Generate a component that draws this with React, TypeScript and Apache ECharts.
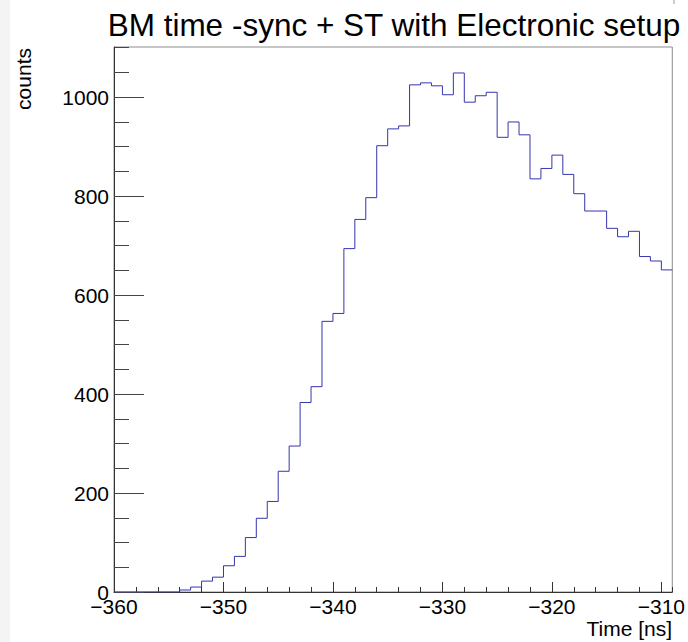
import React, { useEffect, useRef } from "react";
import * as echarts from "echarts";

// Histogram definition: bins of 1 ns starting at -360 ns
const binStart = -360;
const binWidth = 1;
const counts = [
  0, 0, 0, 0, 0, 0, // -360 .. -355
  4, 10, 22, 30, 53, 72, 110, 149, 183, 244, // -354 .. -345
  295, 383, 415, 547, 563, 694, 753, 797, 902, 936, // -344 .. -335
  942, 1025, 1029, 1023, 1005, 1049, 990, 1003, 1010, 919, // -334 .. -325
  950, 924, 835, 856, 883, 844, 805, 770, 770, 735, // -324 .. -315
  718, 729, 678, 669, 651, // -314 .. -310
];
const xMin = -360;
const xMax = -309;
const yMax = 1101.5;
const xMajor = 10;
const xMinor = 2;
const yMajor = 200;
const yMinor = 50;

const titleText = "BM time -sync + ST with Electronic setup";
const xTitle = "Time [ns]";
const yTitle = "counts";

const FONT = "'Liberation Sans', Arial, Helvetica, sans-serif";

export default function App() {
  const ref = useRef<HTMLDivElement>(null);
  useEffect(() => {
    if (!ref.current) return;
    const chart = echarts.init(ref.current, undefined, { renderer: "svg" });
    const pts: number[][] = counts.map((c, i) => [binStart + i * binWidth, c]);
    pts.push([binStart + counts.length * binWidth, counts[counts.length - 1]]);
    const grid = { left: 114, top: 47, width: 560, height: 545 };
    const minus = (v: number) => String(v).replace("-", "\u2212");
    chart.setOption({
      animation: false,
      backgroundColor: "#ffffff",
      grid: { ...grid, show: true, borderColor: "#8c8c8c", borderWidth: 1, backgroundColor: "transparent" },
      xAxis: [
        {
          type: "value",
          min: xMin,
          max: xMax,
          interval: xMajor,
          splitLine: { show: false },
          axisLine: { show: true, onZero: false, lineStyle: { color: "#333", width: 1 } },
          axisTick: { show: true, inside: true, length: 10, lineStyle: { color: "#333" } },
          axisLabel: {
            show: true,
            margin: 4,
            showMaxLabel: false,
            color: "#000",
            fontFamily: FONT,
            fontSize: 21,
            formatter: (v: number) => (v > -310 ? "" : minus(v)),
          },
        },
        {
          type: "value",
          min: xMin,
          max: xMax,
          interval: xMinor,
          position: "bottom",
          splitLine: { show: false },
          axisLine: { show: false },
          axisTick: { show: true, inside: true, length: 5, lineStyle: { color: "#333" } },
          axisLabel: { show: false },
        },
      ],
      yAxis: [
        {
          type: "value",
          min: 0,
          max: yMax,
          interval: yMajor,
          splitLine: { show: false },
          axisLine: { show: true, onZero: false, lineStyle: { color: "#333", width: 1 } },
          axisTick: { show: true, inside: true, length: 30, lineStyle: { color: "#444" } },
          axisLabel: {
            show: true,
            margin: 5,
            showMaxLabel: false,
            color: "#000",
            fontFamily: FONT,
            fontSize: 21,
            formatter: (v: number) => (v > 1000 ? "" : String(v)),
          },
        },
        {
          type: "value",
          min: 0,
          max: yMax,
          interval: yMinor,
          position: "left",
          splitLine: { show: false },
          axisLine: { show: false },
          axisTick: { show: true, inside: true, length: 15, lineStyle: { color: "#444" } },
          axisLabel: { show: false },
        },
      ],
      series: [
        {
          type: "line",
          xAxisIndex: 0,
          yAxisIndex: 0,
          step: "end",
          data: pts,
          symbol: "none",
          clip: true,
          lineStyle: { color: "#3535b0", width: 1 },
        },
      ],
      graphic: [
        { type: "rect", shape: { x: 0, y: 0, width: 10, height: 642 }, style: { fill: "#f4f4f4" }, z: -10 },
        { type: "line", shape: { x1: 674, y1: 0, x2: 674, y2: 4 }, style: { stroke: "#999", lineWidth: 1 } },
        {
          type: "text",
          x: 394,
          y: 25,
          style: {
            text: titleText,
            fill: "#000",
            font: `31.5px ${FONT}`,
            textAlign: "center",
            textVerticalAlign: "middle",
          },
        },
        {
          type: "text",
          x: 672,
          y: 628,
          style: {
            text: xTitle,
            fill: "#000",
            font: `21px ${FONT}`,
            textAlign: "right",
            textVerticalAlign: "middle",
          },
        },
        {
          type: "text",
          x: 23,
          y: 48,
          rotation: Math.PI / 2,
          style: {
            text: yTitle,
            fill: "#000",
            font: `21px ${FONT}`,
            textAlign: "right",
            textVerticalAlign: "middle",
          },
        },
      ],
    });
    return () => chart.dispose();
  }, []);
  return (
    <div
      ref={ref}
      style={{ position: "fixed", left: 0, top: 0, width: 688, height: 642, background: "#fff" }}
    />
  );
}
